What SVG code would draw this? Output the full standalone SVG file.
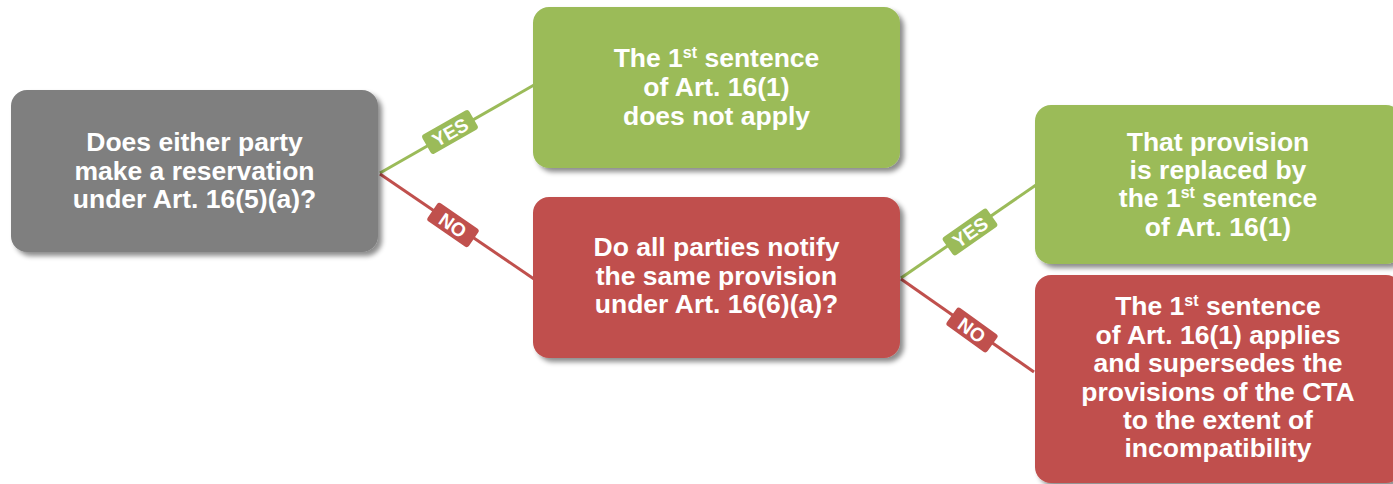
<svg xmlns="http://www.w3.org/2000/svg" width="1393" height="484" viewBox="0 0 1393 484">
  <style>
    .gray { fill: #7f7f7f; }
    .green { fill: #9bbb59; }
    .red { fill: #c0504d; }
    .box { filter: url(#shadow); }
    .t { font-family: "Liberation Sans", Arial, sans-serif; font-weight: bold; font-size: 26.5px; fill: #ffffff; text-anchor: middle; }
    .sup { font-size: 16px; }
    .lbl { font-family: "Liberation Sans", Arial, sans-serif; font-weight: bold; font-size: 19px; fill: #ffffff; text-anchor: middle; }
    .gl { stroke: #9bbb59; stroke-width: 3; fill: none; }
    .rl { stroke: #c0504d; stroke-width: 3; fill: none; }
  </style>
  <defs>
    <filter id="shadow" x="-10%" y="-10%" width="125%" height="130%">
      <feDropShadow dx="4" dy="4" stdDeviation="2.5" flood-color="#000" flood-opacity="0.45"/>
    </filter>
  </defs>
  <rect width="1393" height="484" fill="#ffffff"/>

  <!-- connectors with their YES / NO tags -->
  <g id="connectors">
    <line class="gl" x1="380" y1="173" x2="534" y2="85"/>
    <line class="rl" x1="380" y1="174" x2="534" y2="279"/>
    <line class="gl" x1="901" y1="278" x2="1036" y2="185"/>
    <line class="rl" x1="901" y1="279" x2="1034" y2="372"/>
    <g transform="translate(450,132) rotate(-29.6)">
      <rect class="green" x="-27" y="-11" width="54" height="22" rx="3"/>
      <text class="lbl" y="7">YES</text>
    </g>
    <g transform="translate(453,225) rotate(34.5)">
      <rect class="red" x="-25" y="-11" width="50" height="22" rx="3"/>
      <text class="lbl" y="7">NO</text>
    </g>
    <g transform="translate(970,232) rotate(-35)">
      <rect class="green" x="-27" y="-11" width="54" height="22" rx="3"/>
      <text class="lbl" y="7">YES</text>
    </g>
    <g transform="translate(972,330) rotate(35.7)">
      <rect class="red" x="-25" y="-11" width="50" height="22" rx="3"/>
      <text class="lbl" y="7">NO</text>
    </g>
  </g>

  <g id="q1">
    <rect class="box gray" x="11" y="90" width="367" height="162" rx="16"/>
    <text class="t" x="194.5" y="151">Does either party</text>
    <text class="t" x="194.5" y="180">make a reservation</text>
    <text class="t" x="194.5" y="208">under Art. 16(5)(a)?</text>
  </g>

  <g id="a1">
    <rect class="box green" x="533" y="7" width="367" height="161" rx="16"/>
    <text class="t" x="716.5" y="67">The 1<tspan class="sup" dy="-9">st</tspan><tspan dy="9"> sentence</tspan></text>
    <text class="t" x="716.5" y="96">of Art. 16(1)</text>
    <text class="t" x="716.5" y="125">does not apply</text>
  </g>

  <g id="q2">
    <rect class="box red" x="533" y="197" width="367" height="161" rx="16"/>
    <text class="t" x="716.5" y="256">Do all parties notify</text>
    <text class="t" x="716.5" y="285">the same provision</text>
    <text class="t" x="716.5" y="313">under Art. 16(6)(a)?</text>
  </g>

  <g id="a2">
    <rect class="box green" x="1035" y="105" width="367" height="159" rx="16"/>
    <text class="t" x="1218" y="151">That provision</text>
    <text class="t" x="1218" y="179">is replaced by</text>
    <text class="t" x="1218" y="207">the 1<tspan class="sup" dy="-9">st</tspan><tspan dy="9"> sentence</tspan></text>
    <text class="t" x="1218" y="236">of Art. 16(1)</text>
  </g>

  <g id="a3">
    <rect class="box red" x="1035" y="275" width="367" height="208" rx="16"/>
    <text class="t" x="1218" y="315">The 1<tspan class="sup" dy="-9">st</tspan><tspan dy="9"> sentence</tspan></text>
    <text class="t" x="1218" y="344">of Art. 16(1) applies</text>
    <text class="t" x="1218" y="372">and supersedes the</text>
    <text class="t" x="1218" y="401">provisions of the CTA</text>
    <text class="t" x="1218" y="429">to the extent of</text>
    <text class="t" x="1218" y="457">incompatibility</text>
  </g>
</svg>
